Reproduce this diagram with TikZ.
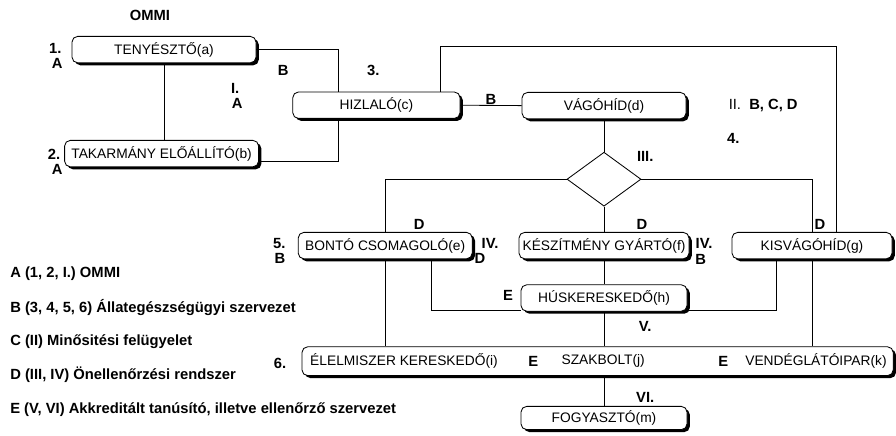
\documentclass[tikz,border=0pt]{standalone}
\usepackage{fontspec}
\setmainfont{Liberation Sans}
\usetikzlibrary{shapes.geometric,shadows}
\tikzset{
  box/.style={draw,semithick,fill=white,rounded corners=4pt,minimum height=6.6mm,
    minimum width=#1,inner sep=1pt,font=\fontsize{9.8}{11}\selectfont,
    drop shadow={shadow xshift=2pt,shadow yshift=-1.8pt,opacity=1,fill=black}},
  box/.default=41.5mm,
  gate/.style={diamond,draw,semithick,minimum width=18.5mm,minimum height=13.5mm,inner sep=0pt},
  link/.style={draw,semithick},
  tag/.style={font=\fontsize{10.5}{12}\selectfont\bfseries,inner sep=1pt},
  inbox/.style={font=\fontsize{9.8}{11}\selectfont,inner sep=1pt},
  legendline/.style={anchor=west,font=\fontsize{10.5}{12}\selectfont\bfseries,inner sep=0pt},
}
\begin{document}
\begin{tikzpicture}
  \useasboundingbox (0,0) rectangle (22.4,-10.875);
  \node[box=46mm] (a) at (4.1,-1.24) {TENYÉSZTŐ(a)};
  \node[box=48.5mm] (b) at (4.04,-3.84) {TAKARMÁNY ELŐÁLLÍTÓ(b)};
  \node[box=41.8mm] (c) at (9.41,-2.63) {HIZLALÓ(c)};
  \node[box=41mm] (d) at (15.1,-2.64) {VÁGÓHÍD(d)};
  \node[gate] (gate) at (15.1,-4.48) {};
  \node[box=43.5mm] (e) at (9.63,-6.14) {BONTÓ CSOMAGOLÓ(e)};
  \node[box=42.5mm] (f) at (15.1,-6.14) {KÉSZÍTMÉNY GYÁRTÓ(f)};
  \node[box=40mm] (g) at (20.3,-6.14) {KISVÁGÓHÍD(g)};
  \node[box] (h) at (15.1,-7.45) {HÚSKERESKEDŐ(h)};
  \node[box=147.8mm,minimum height=7.2mm] (shop) at (14.94,-9.03) {};
  \node[inbox] (i) at (10.1,-9.03) {ÉLELMISZER KERESKEDŐ(i)};
  \node[inbox] (j) at (15.08,-9.03) {SZAKBOLT(j)};
  \node[inbox] (k) at (20.4,-9.03) {VENDÉGLÁTÓIPAR(k)};
  \node[box,minimum height=5.8mm] (m) at (15.1,-10.45) {FOGYASZTÓ(m)};

  \draw[link] (a.south) -- (a.south |- b.north);
  \draw[link] (a.east) -| ([xshift=-9.6mm]c.north);
  \draw[link] ([yshift=-2mm]b.east) -| ([xshift=-9.6mm]c.south);
  \draw[link] ([xshift=15.9mm]c.north) -- ++(0,11.2mm) -| ([xshift=6.2mm]g.north);
  \draw[link] (c.east) -- node[tag,above=-1pt] {B} (d.west);
  \draw[link] (d) -- (gate);
  \draw[link] (gate.west) -| (e.north);
  \draw[link] (gate.east) -| (g.north);
  \draw[link] (gate) -- (f);
  \draw[link] (f) -- (h);
  \draw[link] (e.south) -- (e.south |- shop.north);
  \draw[link] ([xshift=11.5mm]e.south) |- ([yshift=-3mm]h.west);
  \draw[link] ([xshift=-9mm]g.south) |- ([yshift=-3mm]h.east);
  \draw[link] (g.south) -- (g.south |- shop.north);
  \draw[link] (h.south) -- (h.south |- shop.north);
  \draw[link] (shop.south -| m.north) -- (m.north);

  \node[tag] (ommi) at (3.75,-0.38) {OMMI};
  \node[tag] (n1) at (1.38,-1.2) {1.};
  \node[tag] (a1) at (1.43,-1.58) {A};
  \node[tag] (n2) at (1.35,-3.85) {2.};
  \node[tag] (a2) at (1.43,-4.23) {A};
  \node[tag] (b1) at (7.08,-1.75) {B};
  \node[tag] (r1) at (5.88,-2.2) {I.};
  \node[tag] (a3) at (5.93,-2.58) {A};
  \node[tag] (n3) at (9.33,-1.75) {3.};
  \node[tag] (r2) at (19.08,-2.63) {\mdseries II.\ \ \bfseries B, C, D};
  \node[tag] (n4) at (18.33,-3.45) {4.};
  \node[tag] (r3) at (16.13,-3.9) {III.};
  \node[tag] (d1) at (10.48,-5.6) {D};
  \node[tag] (d2) at (16.05,-5.6) {D};
  \node[tag] (d3) at (20.5,-5.6) {D};
  \node[tag] (n5) at (6.98,-6.08) {5.};
  \node[tag] (b2) at (7.0,-6.45) {B};
  \node[tag] (r4) at (12.25,-6.08) {IV.};
  \node[tag] (d4) at (12.0,-6.45) {D};
  \node[tag] (r5) at (17.6,-6.08) {IV.};
  \node[tag] (b3) at (17.52,-6.48) {B};
  \node[tag] (e1) at (12.7,-7.38) {E};
  \node[tag] (r6) at (16.13,-8.15) {V.};
  \node[tag] (n6) at (7.0,-9.08) {6.};
  \node[tag] (e2) at (13.33,-9.03) {E};
  \node[tag] (e3) at (18.08,-9.03) {E};
  \node[tag] (r7) at (16.13,-9.93) {VI.};

  \node[legendline] (la) at (0.25,-6.83) {A (1, 2, I.) OMMI};
  \node[legendline] (lb) at (0.25,-7.68) {B (3, 4, 5, 6) Állategészségügyi szervezet};
  \node[legendline] (lc) at (0.25,-8.53) {C (II) Minősitési felügyelet};
  \node[legendline] (ld) at (0.25,-9.38) {D (III, IV) Önellenőrzési rendszer};
  \node[legendline] (le) at (0.25,-10.23) {E (V, VI) Akkreditált tanúsító, illetve ellenőrző szervezet};
\end{tikzpicture}
\end{document}
